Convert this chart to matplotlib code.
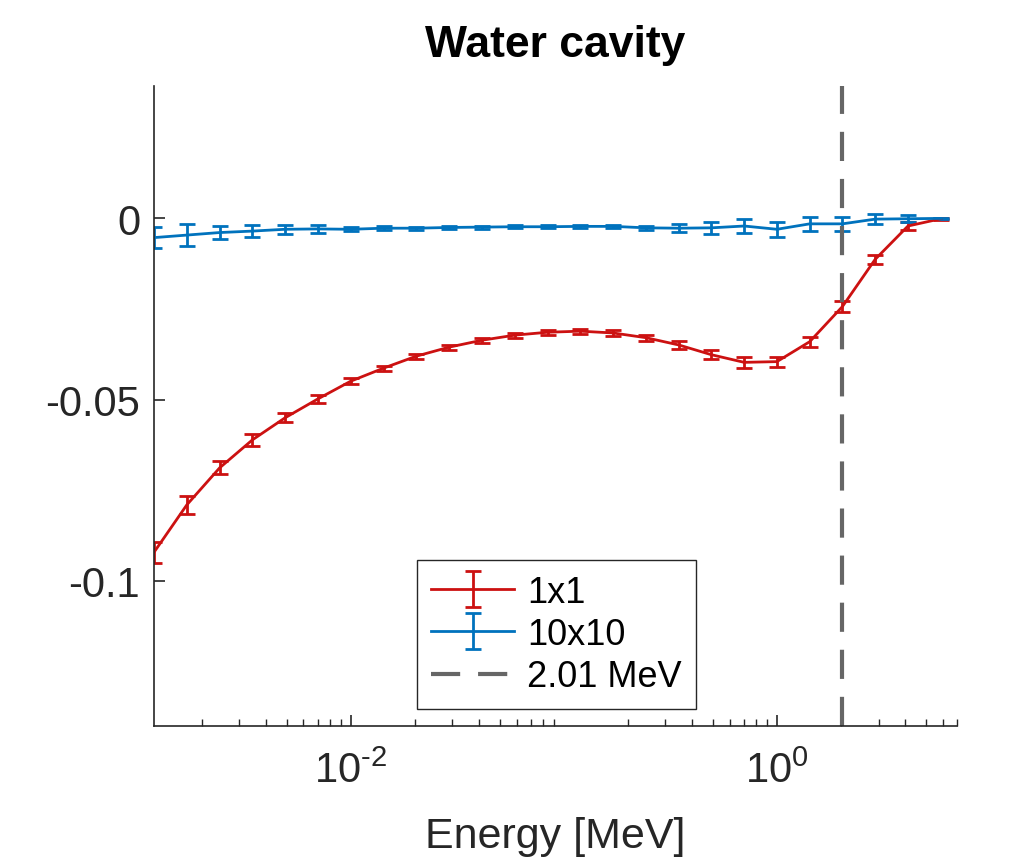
import numpy as np
import matplotlib
matplotlib.use("Agg")
import matplotlib.pyplot as plt

plt.rcParams["font.family"] = ["Liberation Sans", "DejaVu Sans"]
plt.rcParams["mathtext.fontset"] = "custom"
plt.rcParams["mathtext.rm"] = "Liberation Sans"
plt.rcParams["mathtext.it"] = "Liberation Sans"
plt.rcParams["axes.unicode_minus"] = False

# bin centres [MeV]
energy = [1.194e-3, 1.703e-3, 2.427e-3, 3.455e-3, 4.92e-3, 7.01e-3,
          1.0e-2, 1.426e-2, 2.03e-2, 2.90e-2, 4.13e-2, 5.89e-2, 8.39e-2,
          0.1196, 0.1704, 0.243, 0.346, 0.493, 0.702, 1.0, 1.425, 2.03,
          2.89, 4.12, 5.87]

y_1x1 = [-0.0921, -0.0790, -0.0688, -0.0611, -0.0550, -0.0498, -0.0449,
         -0.0413, -0.0380, -0.0355, -0.0336, -0.0322, -0.0314, -0.0311,
         -0.0316, -0.0329, -0.0349, -0.0376, -0.0397, -0.0395, -0.0340,
         -0.0243, -0.0113, -0.0021, -0.0001]
err_1x1 = [0.0029, 0.0024, 0.0018, 0.0016, 0.0012, 0.0010, 0.0008,
           0.0007, 0.0007, 0.0007, 0.0007, 0.0007, 0.0007, 0.0007,
           0.0007, 0.0008, 0.0010, 0.0012, 0.0016, 0.0014, 0.0014,
           0.0016, 0.0012, 0.0010, 0.0003]

y_10x10 = [-0.0053, -0.0046, -0.0039, -0.0035, -0.0030, -0.0029, -0.0030,
           -0.0027, -0.0027, -0.0025, -0.0024, -0.0023, -0.0023, -0.0022,
           -0.0022, -0.0026, -0.0027, -0.0026, -0.0021, -0.0030, -0.0015,
           -0.0015, -0.0002, -0.0001, 0.0]
err_10x10 = [0.0030, 0.0030, 0.0018, 0.0016, 0.0012, 0.0010, 0.0006,
             0.0005, 0.0004, 0.0004, 0.0004, 0.0004, 0.0004, 0.0004,
             0.0004, 0.0006, 0.0011, 0.0016, 0.0019, 0.0020, 0.0020,
             0.0020, 0.0013, 0.0010, 0.0002]

threshold = 2.01
xtick_pos = [1e-2, 1e0]
xtick_lbl = [r"$10^{\text{-}2}$", r"$10^{0}$"]

fig = plt.figure(figsize=(10.09, 8.62), dpi=100)
ax = fig.add_axes([0.1526, 0.1566, 0.7959, 0.7424])

red = "#cc1111"
blue = "#0072bd"
dark = "#262626"
h1 = ax.errorbar(energy, y_1x1, yerr=err_1x1, color=red, lw=2, capsize=6,
                 capthick=2, elinewidth=2, label="1x1")
h2 = ax.errorbar(energy, y_10x10, yerr=err_10x10, color=blue, lw=2,
                 capsize=6, capthick=2, elinewidth=2, label="10x10")
h3 = ax.axvline(threshold, color="#666666", lw=3, ls=(0, (7, 4.3)),
                label="2.01 MeV")

ax.set_xscale("log")
ax.set_xlim(energy[0], 7)
ax.set_ylim(-0.14, 0.0365)
ax.set_xticks(xtick_pos)
ax.set_xticklabels(xtick_lbl)
ax.set_yticks([-0.1, -0.05, 0])
ax.set_yticklabels(["-0.1", "-0.05", "0"])

for s in ["top", "right"]:
    ax.spines[s].set_visible(False)
for s in ["left", "bottom"]:
    ax.spines[s].set_color(dark)
    ax.spines[s].set_linewidth(1.2)
ax.tick_params(which="both", direction="in", colors=dark,
               labelsize=30, pad=10)
ax.tick_params(which="major", length=8, width=1.2)
ax.tick_params(which="minor", length=5, width=1.0)
ax.tick_params(axis="x", pad=18)

ax.set_xlabel("Energy [MeV]", fontsize=31, color=dark, labelpad=18)
ax.set_title("Water cavity", fontsize=32, fontweight="bold", pad=22)

leg = ax.legend(handles=[h1, h2, h3], loc="lower left",
                bbox_to_anchor=(0.3275, 0.027),
                fontsize=26, fancybox=False, framealpha=1,
                edgecolor=dark, handlelength=2.3, borderpad=0.4,
                labelspacing=0.2, handletextpad=0.35, borderaxespad=0)
leg.get_frame().set_linewidth(1.0)

fig.savefig("out.png", dpi=100)
